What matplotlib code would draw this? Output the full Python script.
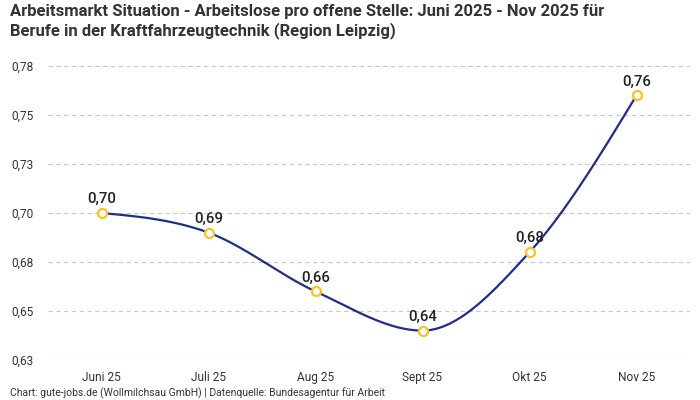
import numpy as np
import matplotlib
matplotlib.use("Agg")
import matplotlib.pyplot as plt
from matplotlib.ticker import FuncFormatter, MultipleLocator

months = ["Juni 25", "Juli 25", "Aug 25", "Sept 25", "Okt 25", "Nov 25"]
values = [0.700, 0.690, 0.660, 0.640, 0.680, 0.760]
title = ("Arbeitsmarkt Situation - Arbeitslose pro offene Stelle: Juni 2025 - Nov 2025 für\n"
         "Berufe in der Kraftfahrzeugtechnik (Region Leipzig)")
footer = "Chart: gute-jobs.de (Wollmilchsau GmbH) | Datenquelle: Bundesagentur für Arbeit"

plt.rcParams["font.family"] = ["Roboto", "DejaVu Sans"]

LINE = "#1f2d8c"
MARK = "#f7c325"
TXT = "#333333"


def monotone_curve(x, y, n=40):
    x = np.asarray(x, float); y = np.asarray(y, float)
    h = np.diff(x); s = np.diff(y) / h
    m = np.zeros_like(y)
    for i in range(1, len(y) - 1):
        s0, s1 = s[i - 1], s[i]
        p = (s0 * h[i] + s1 * h[i - 1]) / (h[i - 1] + h[i])
        m[i] = (np.sign(s0) + np.sign(s1)) * min(abs(s0), abs(s1), 0.5 * abs(p))
    m[0] = (3 * s[0] - m[1]) / 2
    m[-1] = (3 * s[-1] - m[-2]) / 2
    xs, ys = [], []
    for i in range(len(h)):
        t = np.linspace(0, 1, n)
        h00 = 2 * t**3 - 3 * t**2 + 1
        h10 = t**3 - 2 * t**2 + t
        h01 = -2 * t**3 + 3 * t**2
        h11 = t**3 - t**2
        xs.append(x[i] + t * h[i])
        ys.append(h00 * y[i] + h10 * h[i] * m[i] + h01 * y[i + 1] + h11 * h[i] * m[i + 1])
    return np.concatenate(xs), np.concatenate(ys)


fig = plt.figure(figsize=(7, 4), dpi=100)
ax = fig.add_axes([48 / 700, 1 - 360 / 400, 642 / 700, 294 / 400])

xi = np.arange(len(months))
cx, cy = monotone_curve(xi, values)
ax.plot(cx, cy, color=LINE, lw=1.6, zorder=3)
ax.plot(xi, values, "o", ms=6.5, mfc="white", mec=MARK, mew=1.6, zorder=4)
for x, v in zip(xi, values):
    ax.annotate(f"{v:.2f}".replace(".", ","), (x, v), xytext=(0, 5),
                textcoords="offset points", ha="center", va="bottom",
                fontsize=10.8, fontweight="medium", color="#222222")

ax.set_xlim(-0.5, len(months) - 0.5)
ax.set_ylim(0.625, 0.775)
ax.yaxis.set_major_locator(MultipleLocator(0.025))
ax.yaxis.set_major_formatter(FuncFormatter(lambda v, p: f"{v + 1e-9:.2f}".replace(".", ",")))
ax.set_xticks(xi)
ax.set_xticklabels(months)
ax.grid(axis="y", color="#c8c8c8", ls=(0, (4, 3)), lw=0.8)
ax.set_axisbelow(True)
for sp in ax.spines.values():
    sp.set_visible(False)
ax.tick_params(length=0, labelsize=8.6, colors=TXT)
ax.tick_params(axis="y", pad=10)
ax.tick_params(axis="x", pad=8)

fig.text(10 / 700, 1 - 4 / 400, title, ha="left", va="top", fontsize=12,
         fontweight="bold", color=TXT, linespacing=1.25)
fig.text(10 / 700, 1 - 393 / 400, footer, ha="left", va="center", fontsize=7.5, color=TXT)

fig.savefig("out.png", dpi=100, facecolor="white")
